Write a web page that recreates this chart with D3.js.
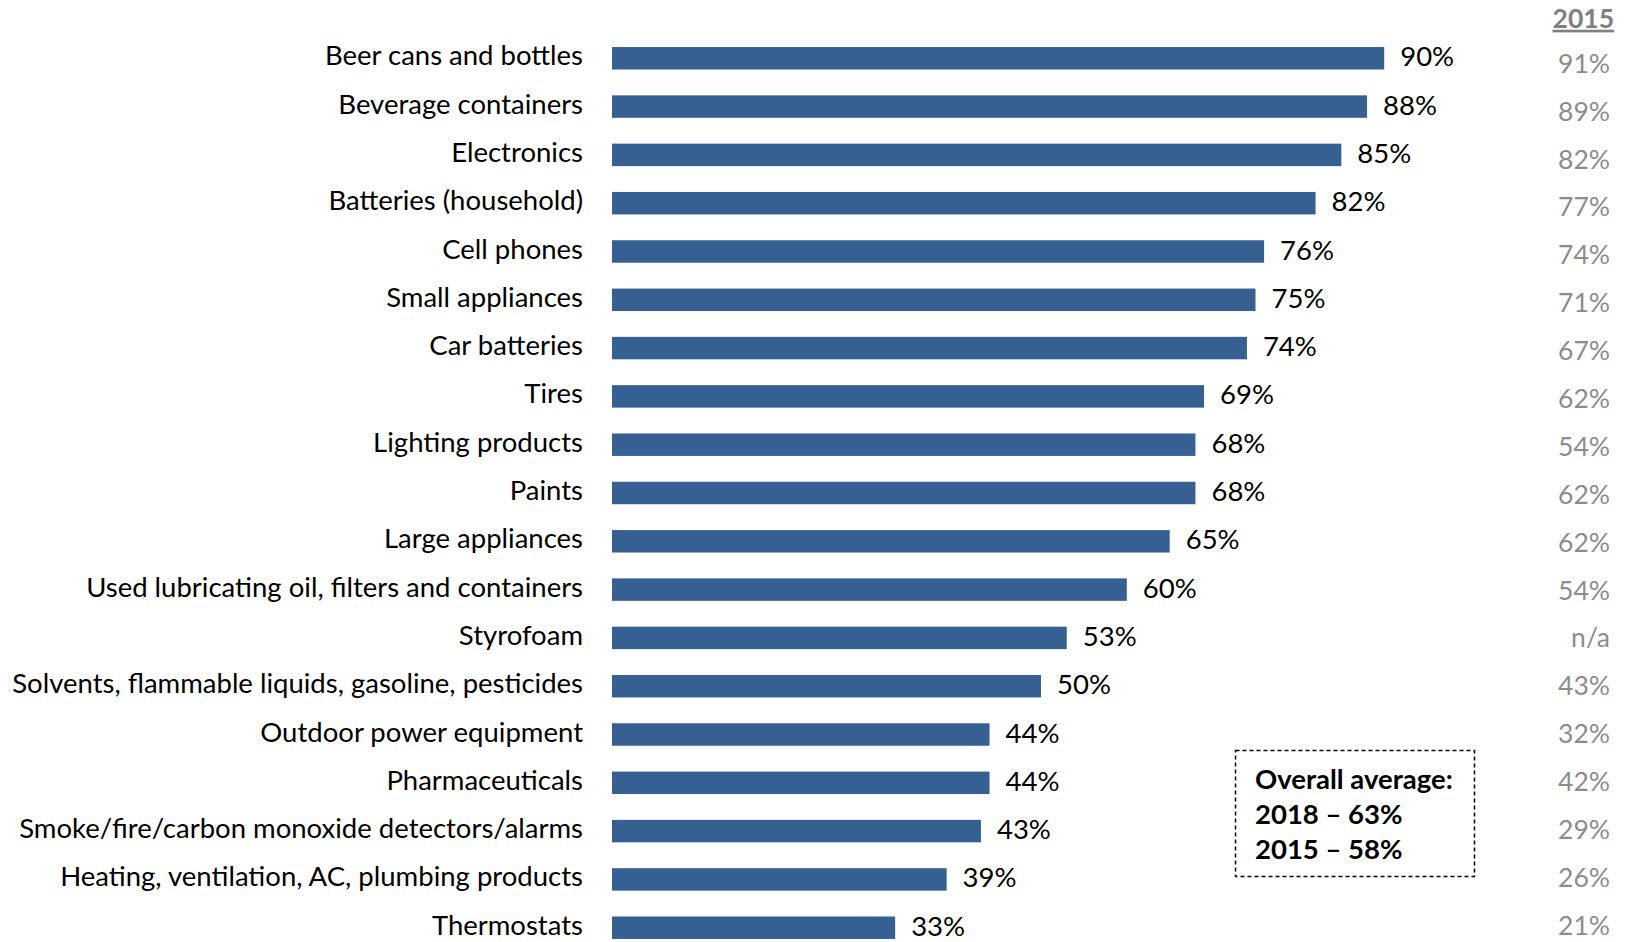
<!DOCTYPE html>
<html>
<head>
<meta charset="utf-8">
<script src="https://cdn.jsdelivr.net/npm/d3@7"></script>
<style>
  html, body { margin: 0; padding: 0; background: #ffffff; }
  svg { display: block; font-family: Lato, "Open Sans", sans-serif; }
</style>
</head>
<body>
<svg id="chart" width="1630" height="942"></svg>
<script>
// Share of respondents aware of recycling/disposal options, by product type
const categories = [
  "Beer cans and bottles",
  "Beverage containers",
  "Electronics",
  "Batteries (household)",
  "Cell phones",
  "Small appliances",
  "Car batteries",
  "Tires",
  "Lighting products",
  "Paints",
  "Large appliances",
  "Used lubricating oil, filters and containers",
  "Styrofoam",
  "Solvents, flammable liquids, gasoline, pesticides",
  "Outdoor power equipment",
  "Pharmaceuticals",
  "Smoke/fire/carbon monoxide detectors/alarms",
  "Heating, ventilation, AC, plumbing products",
  "Thermostats"
];
const values2018 = [90, 88, 85, 82, 76, 75, 74, 69, 68, 68, 65, 60, 53, 50, 44, 44, 43, 39, 33];
const values2015 = [91, 89, 82, 77, 74, 71, 67, 62, 54, 62, 62, 54, null, 43, 32, 42, 29, 26, 21];
const comparisonYear = "2015";
const averageLines = ["Overall average:", "2018 \u2013 63%", "2015 \u2013 58%"];

const rows = categories.map((c, i) => ({ category: c, v2018: values2018[i], v2015: values2015[i] }));

const svg = d3.select("#chart");
const fontSize = 27.5;

const x = d3.scaleLinear().domain([0, 100]).range([612, 1470]);
const y = d3.scaleBand()
  .domain(categories)
  .range([34, 952])
  .paddingInner(0.535)
  .paddingOuter(0.27);
// the comparison column sits on its own, slightly tighter, row grid
const yCol = d3.scalePoint()
  .domain(categories)
  .range([64, 926]);

const fmt = v => v == null ? "n/a" : v + "%";
const mid = d => y(d.category) + y.bandwidth() / 2;

// Bars
svg.append("g")
  .selectAll("rect")
  .data(rows)
  .join("rect")
  .attr("x", x(0))
  .attr("y", d => y(d.category))
  .attr("width", d => x(d.v2018) - x(0))
  .attr("height", y.bandwidth())
  .attr("fill", "#376092");

// Category labels
svg.append("g")
  .selectAll("text")
  .data(rows)
  .join("text")
  .attr("x", 583)
  .attr("y", d => mid(d) - 2)
  .attr("dy", "0.33em")
  .attr("text-anchor", "end")
  .attr("font-size", fontSize)
  .attr("fill", "#000")
  .text(d => d.category);

// Value labels
svg.append("g")
  .selectAll("text")
  .data(rows)
  .join("text")
  .attr("x", d => x(d.v2018) + 16)
  .attr("y", d => mid(d) - 1)
  .attr("dy", "0.33em")
  .attr("font-size", fontSize)
  .attr("fill", "#000")
  .text(d => fmt(d.v2018));

// Comparison column
svg.append("text")
  .attr("x", 1614)
  .attr("y", 19)
  .attr("dy", "0.33em")
  .attr("text-anchor", "end")
  .attr("font-size", fontSize - 1)
  .attr("font-weight", "bold")
  .attr("fill", "#7f7f7f")
  .attr("text-decoration", "underline")
  .text(comparisonYear);

svg.append("g")
  .selectAll("text")
  .data(rows)
  .join("text")
  .attr("x", 1610)
  .attr("y", d => yCol(d.category))
  .attr("dy", "0.33em")
  .attr("text-anchor", "end")
  .attr("font-size", fontSize - 1)
  .attr("fill", "#8c8c8c")
  .text(d => fmt(d.v2015));

// Overall average box
const box = svg.append("g");
box.append("rect")
  .attr("x", 1235.5)
  .attr("y", 750.5)
  .attr("width", 239)
  .attr("height", 126)
  .attr("fill", "#fff")
  .attr("stroke", "#000")
  .attr("stroke-width", 1.5)
  .attr("stroke-dasharray", "4,3");
box.selectAll("text.avg")
  .data(averageLines)
  .join("text")
  .attr("class", "avg")
  .attr("x", 1255)
  .attr("y", (d, i) => 780 + i * 35)
  .attr("dy", "0.33em")
  .attr("font-size", fontSize)
  .attr("font-weight", "bold")
  .attr("fill", "#000")
  .text(d => d);
</script>
</body>
</html>
